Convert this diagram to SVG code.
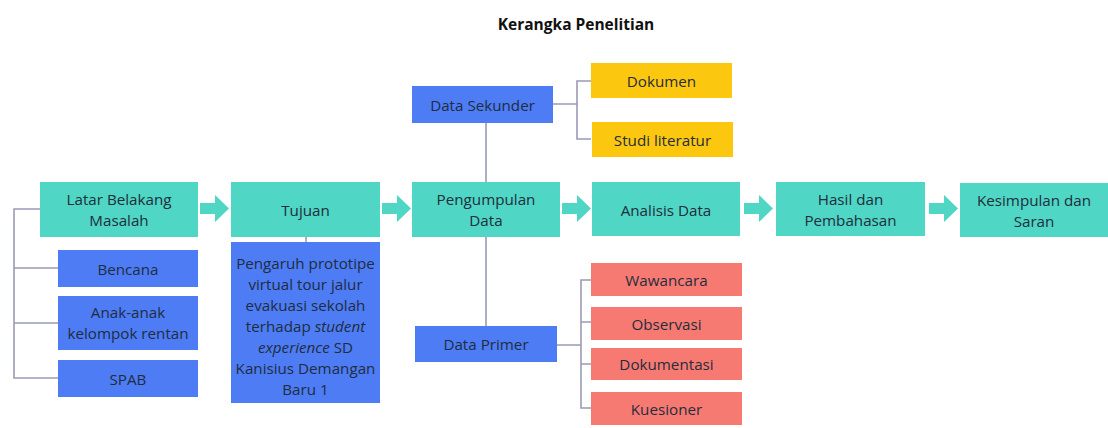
<svg xmlns="http://www.w3.org/2000/svg" width="1108" height="428" viewBox="0 0 1108 428">
<style>
text{font-family:"Open Sans","Noto Sans","Liberation Sans",sans-serif;font-size:15.2px;fill:#1f2d3d;text-anchor:middle;dominant-baseline:central}
.title{font-weight:bold;font-size:15.5px;fill:#111}
.teal{fill:#4fd6c4}
.blue{fill:#4d7cf5}
.yel{fill:#fcc70f}
.red{fill:#f77a72}
.ln{fill:none;stroke:#9a9ab6;stroke-width:1.6}
.arr{fill:#4fd6c4}
</style>
<rect width="1108" height="428" fill="#ffffff"/>
<text class="title" x="576" y="24">Kerangka Penelitian</text>

<g id="connectors">
<path class="ln" d="M40 209 H14 V378 H58 M14 268 H58 M14 323 H58"/>
<path class="ln" d="M306 237 V242"/>
<path class="ln" d="M486 123 V182 M486 237 V326"/>
<path class="ln" d="M553 104 H577 M591 81 H577 V139 H591"/>
<path class="ln" d="M557 345 H581 M591 280 H581 V408 H591 M581 322 H591 M581 364 H591"/>
<path class="arr" d="M200 203 H215 V195 L229 208.5 L215 222 V214 H200 Z"/>
<path class="arr" d="M382 203 H397 V195 L411 208.5 L397 222 V214 H382 Z"/>
<path class="arr" d="M562 203 H577 V195 L591 208.5 L577 222 V214 H562 Z"/>
<path class="arr" d="M744 203 H759 V195 L773 208.5 L759 222 V214 H744 Z"/>
<path class="arr" d="M929 203 H944 V195 L958 208.5 L944 222 V214 H929 Z"/>
</g>

<g id="latar"><rect class="teal" x="40" y="182" width="158" height="55"/><text x="119" y="199">Latar Belakang</text><text x="119" y="220">Masalah</text></g>
<g id="tujuan"><rect class="teal" x="231" y="182" width="149" height="55"/><text x="305.5" y="209.5">Tujuan</text></g>
<g id="pengumpulan"><rect class="teal" x="412" y="182" width="148" height="55"/><text x="486" y="199">Pengumpulan</text><text x="486" y="220">Data</text></g>
<g id="analisis"><rect class="teal" x="592" y="182" width="148" height="54"/><text x="666" y="209.5">Analisis Data</text></g>
<g id="hasil"><rect class="teal" x="776" y="182" width="149" height="54"/><text x="850.5" y="199">Hasil dan</text><text x="850.5" y="220">Pembahasan</text></g>
<g id="kesimpulan"><rect class="teal" x="960" y="183" width="148" height="54"/><text x="1034" y="200">Kesimpulan dan</text><text x="1034" y="221">Saran</text></g>

<g id="bencana"><rect class="blue" x="58" y="250" width="140" height="37"/><text x="128" y="268.5">Bencana</text></g>
<g id="anak"><rect class="blue" x="58" y="296" width="140" height="54"/><text x="128" y="312">Anak-anak</text><text x="128" y="333">kelompok rentan</text></g>
<g id="spab"><rect class="blue" x="58" y="360" width="140" height="37"/><text x="128" y="378.5">SPAB</text></g>
<g id="pengaruh"><rect class="blue" x="231" y="242" width="149" height="161"/>
<text x="305.5" y="263">Pengaruh prototipe</text>
<text x="305.5" y="284">virtual tour jalur</text>
<text x="305.5" y="305">evakuasi sekolah</text>
<text x="305.5" y="326">terhadap <tspan font-style="italic">student</tspan></text>
<text x="305.5" y="347"><tspan font-style="italic">experience</tspan> SD</text>
<text x="305.5" y="368">Kanisius Demangan</text>
<text x="305.5" y="389">Baru 1</text>
</g>

<g id="sekunder"><rect class="blue" x="412" y="86" width="141" height="37"/><text x="482.5" y="104.5">Data Sekunder</text></g>
<g id="dokumen"><rect class="yel" x="591" y="63" width="141" height="35"/><text x="661.5" y="80.5">Dokumen</text></g>
<g id="studi"><rect class="yel" x="592" y="122" width="141" height="35"/><text x="662.5" y="139.5">Studi literatur</text></g>

<g id="primer"><rect class="blue" x="415" y="326" width="142" height="36"/><text x="486" y="344">Data Primer</text></g>
<g id="wawancara"><rect class="red" x="591" y="263" width="151" height="33"/><text x="666.5" y="279.5">Wawancara</text></g>
<g id="observasi"><rect class="red" x="591" y="307" width="151" height="33"/><text x="666.5" y="323.5">Observasi</text></g>
<g id="dokumentasi"><rect class="red" x="591" y="348" width="151" height="32"/><text x="666.5" y="364">Dokumentasi</text></g>
<g id="kuesioner"><rect class="red" x="591" y="392" width="151" height="33"/><text x="666.5" y="408.5">Kuesioner</text></g>
</svg>
